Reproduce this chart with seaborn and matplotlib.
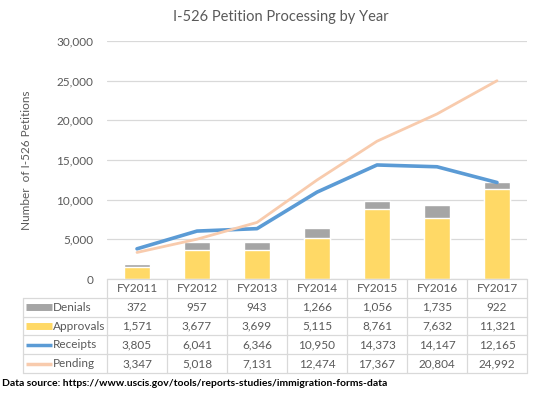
import matplotlib

matplotlib.use("Agg")
import matplotlib.pyplot as plt
import numpy as np
import pandas as pd
import seaborn as sns

# data
years = ["FY2011", "FY2012", "FY2013", "FY2014", "FY2015", "FY2016", "FY2017"]
denials = [372, 957, 943, 1266, 1056, 1735, 922]
approvals = [1571, 3677, 3699, 5115, 8761, 7632, 11321]
receipts = [3805, 6041, 6346, 10950, 14373, 14147, 12165]
pending = [3347, 5018, 7131, 12474, 17367, 20804, 24992]
yticks = [0, 5000, 10000, 15000, 20000, 25000, 30000]

GRAY = "#A5A5A5"
YELLOW = "#FFD966"
BLUE = "#5B9BD5"
PEACH = "#F8CBAD"
TEXT = "#595959"
GRID = "#D9D9D9"

W, H = 544, 396
# layout in pixels
PL, PR, PT, PB = 107, 527, 41, 279
LABEL_L = 23
ROW_H = 18.8

sns.set_theme(style="white")
plt.rcParams["font.family"] = ["Lato", "DejaVu Sans"]

df = pd.DataFrame({"year": years, "denials": denials, "approvals": approvals})
df["total"] = df["denials"] + df["approvals"]

fig = plt.figure(figsize=(W / 100, H / 100), dpi=100)
ax = fig.add_axes([PL / W, 1 - PB / H, (PR - PL) / W, (PB - PT) / H])

sns.barplot(data=df, x="year", y="total", color=GRAY, width=0.42, ax=ax, saturation=1)
sns.barplot(data=df, x="year", y="approvals", color=YELLOW, width=0.42, ax=ax, saturation=1)
xs = np.arange(len(years))
sns.lineplot(x=xs, y=receipts, color=BLUE, lw=2.6, ax=ax)
sns.lineplot(x=xs, y=pending, color=PEACH, lw=2.0, ax=ax)

ax.set_xlim(-0.5, len(years) - 0.5)
ax.set_ylim(0, 30000)
ax.set_yticks(yticks)
ax.set_yticklabels([f"{v:,}" for v in yticks], color=TEXT, fontsize=8.5)
ax.tick_params(axis="y", length=0, pad=10)
ax.set_xticks([])
ax.set_xlabel("")
ax.set_ylabel("Number  of I-526 Petitions", color=TEXT, fontsize=8.5)
ax.yaxis.set_label_coords(-(PL - 32) / (PR - PL), 0.5)
ax.grid(axis="y", color=GRID, lw=0.9)
ax.set_axisbelow(True)
for s in ax.spines.values():
    s.set_visible(False)

fig.text(281 / W, 1 - 17 / H, "I-526 Petition Processing by Year", ha="center",
         va="center", color=TEXT, fontsize=10.5)

# data table drawn in pixel coordinates
tab = fig.add_axes([0, 0, 1, 1])
tab.set_xlim(0, W)
tab.set_ylim(H, 0)
tab.axis("off")
colw = (PR - PL) / len(years)
rows = [("Denials", denials, GRAY, 5), ("Approvals", approvals, YELLOW, 5),
        ("Receipts", receipts, BLUE, 2.5), ("Pending", pending, PEACH, 2.5)]
bottom = PB + ROW_H * (len(rows) + 1)
lc = dict(color=GRID, lw=0.9)
tab.plot([PL, PR], [PB, PB], **lc)
for r in range(1, len(rows) + 2):
    y = PB + ROW_H * r
    tab.plot([LABEL_L, PR], [y, y], **lc)
for c in range(len(years) + 1):
    x = PL + colw * c
    tab.plot([x, x], [PB, bottom], **lc)
tab.plot([LABEL_L, LABEL_L], [PB + ROW_H, bottom], **lc)
for c, yr in enumerate(years):
    tab.text(PL + colw * (c + 0.5), PB + ROW_H / 2, yr, ha="center", va="center",
             color=TEXT, fontsize=8.5)
for r, (name, vals, col, lw) in enumerate(rows):
    yc = PB + ROW_H * (r + 1.5)
    tab.plot([26, 52], [yc, yc], color=col, lw=lw, solid_capstyle="butt")
    tab.text(53, yc, name, ha="left", va="center", color=TEXT, fontsize=8.5)
    for c, v in enumerate(vals):
        tab.text(PL + colw * (c + 0.5), yc, f"{v:,}", ha="center", va="center",
                 color=TEXT, fontsize=8.5)

fig.text(2 / W, 1 - 384 / H,
         "Data source: https://www.uscis.gov/tools/reports-studies/immigration-forms-data",
         ha="left", va="center", color="black", fontsize=7.5, fontweight="bold")

fig.savefig("out.png", dpi=100)
